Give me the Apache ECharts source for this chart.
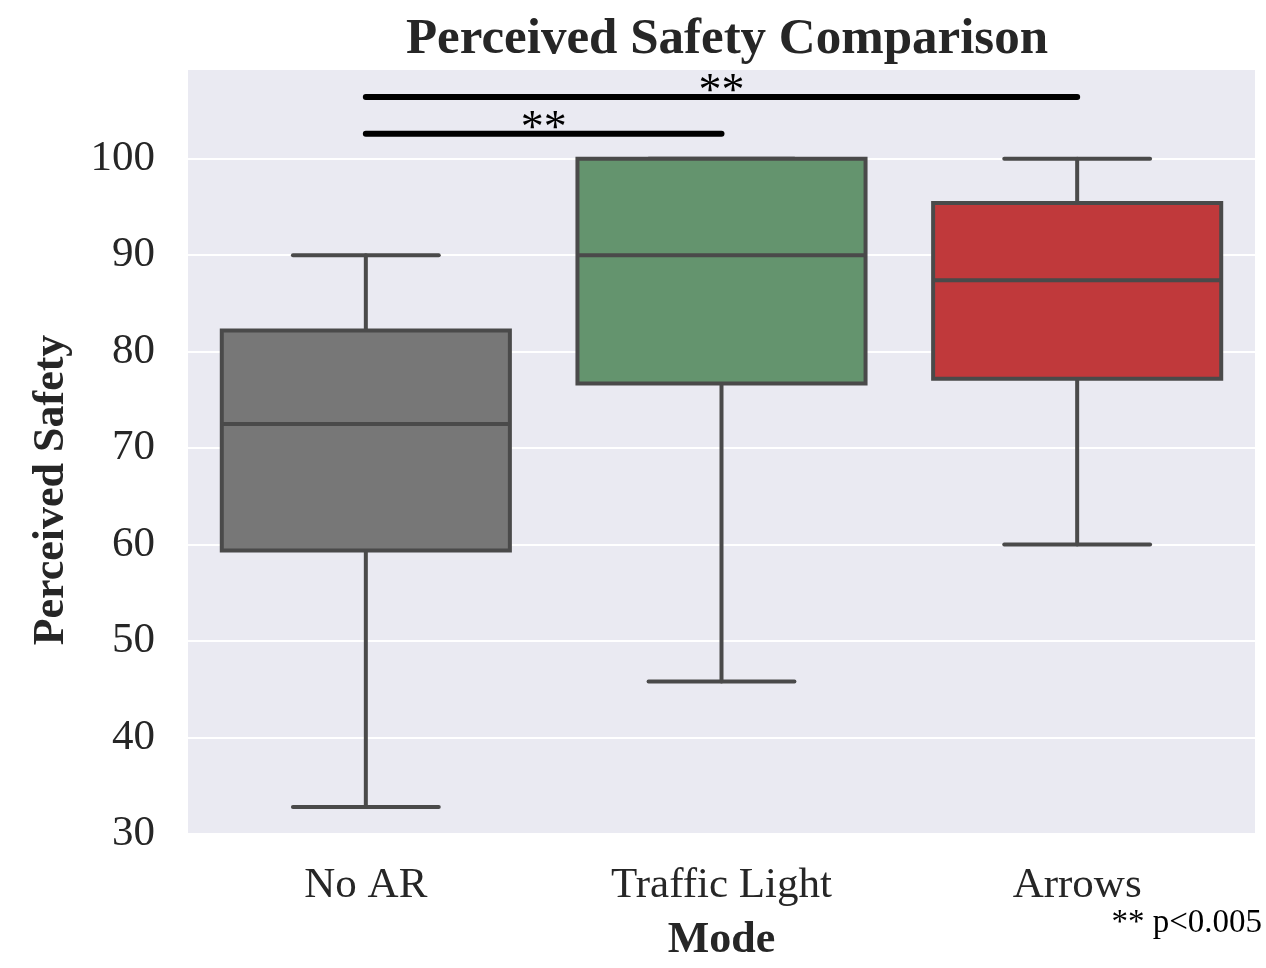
<!DOCTYPE html>
<html>
<head>
<meta charset="utf-8">
<script src="https://cdn.jsdelivr.net/npm/echarts@6/dist/echarts.min.js"></script>
<style>
  html, body { margin: 0; padding: 0; background: #ffffff; }
  #chart { width: 1266px; height: 968px; }
</style>
</head>
<body>
<div id="chart"></div>
<script>
// Perceived safety scores per display mode (box statistics)
const categories = ['No AR', 'Traffic Light', 'Arrows'];
const whiskerLow = [32.8, 45.8, 60];
const q1 = [59.4, 76.7, 77.2];
const median = [72.5, 90, 87.4];
const q3 = [82.2, 100, 95.4];
const whiskerHigh = [90, 100, 100];
const boxColors = ['#777777', '#64946e', '#c0393b'];

// Significance brackets: [fromIndex, toIndex, height, label]
const sigFrom = [0, 0];
const sigTo = [1, 2];
const sigHeight = [102.6, 106.4];
const sigLabel = ['**', '**'];

const yTicks = [30, 40, 50, 60, 70, 80, 90, 100];

const FONT = '"Liberation Serif", "Times New Roman", serif';
const EDGE = '#4a4a4a';
const STAR_SIZE = 46;

const boxData = categories.map((c, i) => [i, whiskerLow[i], q1[i], median[i], q3[i], whiskerHigh[i]]);
const sigData = sigFrom.map((f, i) => [f, sigTo[i], sigHeight[i], sigLabel[i]]);

const chart = echarts.init(document.getElementById('chart'), null, { renderer: 'canvas' });

chart.setOption({
  backgroundColor: '#ffffff',
  animation: false,
  title: {
    text: 'Perceived Safety Comparison',
    left: 722,
    textAlign: 'center',
    top: 9,
    textStyle: { fontFamily: FONT, fontWeight: 'bold', fontSize: 51, color: '#262626' }
  },
  grid: {
    left: 188, right: 11, top: 69, bottom: 131,
    show: true, backgroundColor: '#eaeaf2', borderWidth: 0
  },
  xAxis: {
    type: 'category',
    data: categories,
    name: 'Mode',
    nameLocation: 'middle',
    nameGap: 85,
    nameTextStyle: { fontFamily: FONT, fontWeight: 'bold', fontSize: 44, color: '#262626' },
    axisLine: { show: false },
    axisTick: { show: false },
    axisLabel: { fontFamily: FONT, fontSize: 43, color: '#262626', margin: 30 },
    splitLine: { show: false }
  },
  yAxis: {
    type: 'value',
    min: 30,
    max: 109.3,
    interval: 10,
    axisLine: { show: false },
    axisTick: { show: false },
    axisLabel: {
      fontFamily: FONT, fontSize: 43, color: '#262626', margin: 33,
      formatter: v => (yTicks.indexOf(v) >= 0 ? String(v) : '')
    },
    splitLine: { show: true, lineStyle: { color: '#ffffff', width: 2 } }
  },
  series: [
    {
      type: 'custom',
      name: 'box',
      data: boxData,
      encode: { x: 0, y: [1, 2, 3, 4, 5] },
      renderItem: function (params, api) {
        const idx = api.value(0);
        const band = api.size([1, 0])[0];
        const bw = band * 0.81;
        const cw = band * 0.41;
        const pLow = api.coord([idx, api.value(1)]);
        const pQ1 = api.coord([idx, api.value(2)]);
        const pMed = api.coord([idx, api.value(3)]);
        const pQ3 = api.coord([idx, api.value(4)]);
        const pHigh = api.coord([idx, api.value(5)]);
        const x = pQ1[0];
        const lineStyle = { stroke: EDGE, lineWidth: 4, lineCap: 'round' };
        const children = [
          { type: 'line', shape: { x1: x, y1: pQ1[1], x2: x, y2: pLow[1] }, style: lineStyle },
          { type: 'line', shape: { x1: x, y1: pQ3[1], x2: x, y2: pHigh[1] }, style: lineStyle },
          { type: 'line', shape: { x1: x - cw / 2, y1: pLow[1], x2: x + cw / 2, y2: pLow[1] }, style: lineStyle },
          { type: 'line', shape: { x1: x - cw / 2, y1: pHigh[1], x2: x + cw / 2, y2: pHigh[1] }, style: lineStyle },
          {
            type: 'rect',
            shape: { x: x - bw / 2, y: pQ3[1], width: bw, height: pQ1[1] - pQ3[1] },
            style: { fill: boxColors[idx], stroke: EDGE, lineWidth: 4 }
          },
          { type: 'line', shape: { x1: x - bw / 2, y1: pMed[1], x2: x + bw / 2, y2: pMed[1] }, style: { stroke: EDGE, lineWidth: 4 } }
        ];
        return { type: 'group', children: children };
      },
      z: 3
    },
    {
      type: 'custom',
      name: 'significance',
      data: sigData,
      encode: { x: [0, 1], y: 2 },
      renderItem: function (params, api) {
        const a = api.coord([api.value(0), api.value(2)]);
        const b = api.coord([api.value(1), api.value(2)]);
        return {
          type: 'group',
          children: [
            { type: 'line', shape: { x1: a[0], y1: a[1], x2: b[0], y2: b[1] }, style: { stroke: '#000000', lineWidth: 6, lineCap: 'round' } },
            {
              type: 'text',
              style: {
                x: (a[0] + b[0]) / 2, y: a[1] + STAR_SIZE * 0.42,
                text: sigData[params.dataIndex][3],
                textAlign: 'center', textVerticalAlign: 'bottom',
                fontFamily: FONT, fontSize: STAR_SIZE, fill: '#000000'
              }
            }
          ]
        };
      },
      z: 4
    }
  ],
  graphic: [
    {
      type: 'text',
      x: 52,
      y: 490,
      rotation: Math.PI / 2,
      style: {
        text: 'Perceived Safety',
        textAlign: 'center', textVerticalAlign: 'middle',
        fontFamily: FONT, fontWeight: 'bold', fontSize: 44, fill: '#262626'
      }
    },
    {
      type: 'text',
      right: 4,
      top: 907,
      style: { text: '** p<0.005', fontFamily: FONT, fontSize: 33, fill: '#000000' }
    }
  ]
});
</script>
</body>
</html>
